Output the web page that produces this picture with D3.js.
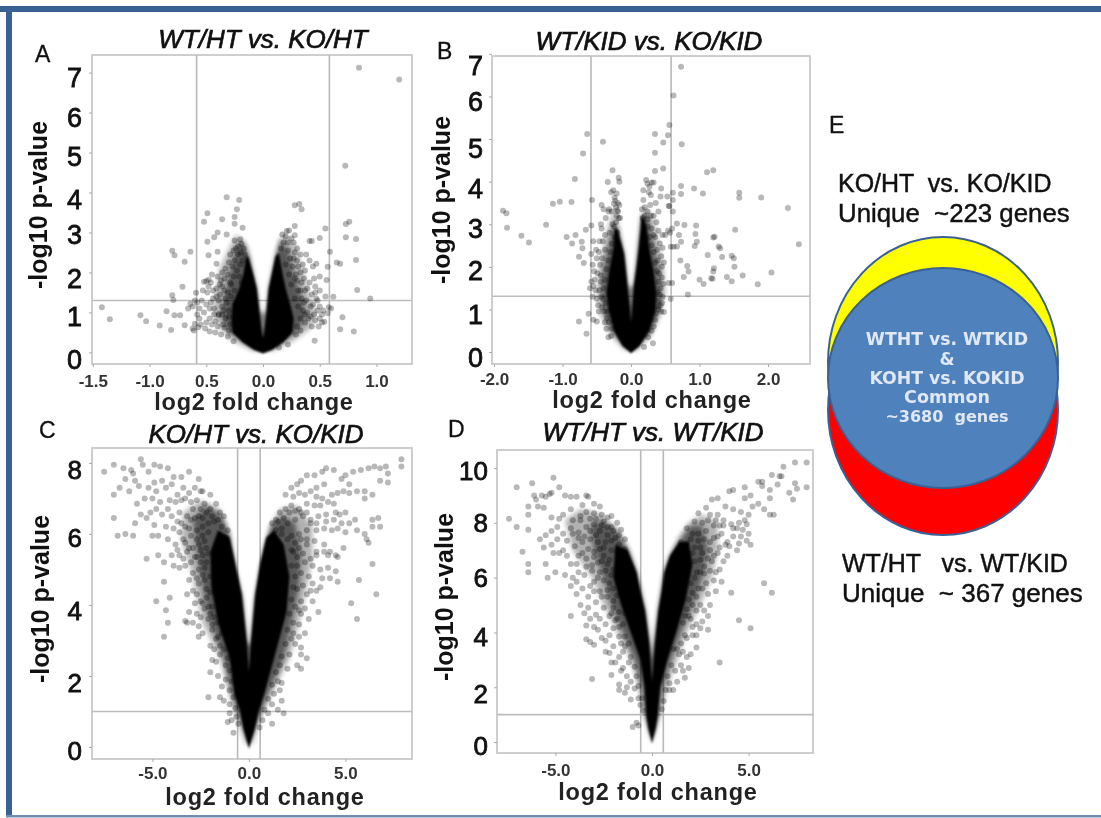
<!DOCTYPE html>
<html>
<head>
<meta charset="utf-8">
<script src="https://cdn.jsdelivr.net/npm/d3@7"></script>
<style>
  html, body { margin: 0; padding: 0; background: #fff; }
  svg { display: block; filter: blur(0.5px); font-family: "Liberation Sans", Arial, sans-serif; }
</style>
</head>
<body>
<div id="chart"></div>
<script>
// genes: [log2 fold change, -log10 p-value]
const ptsA = [
  [.846,7.12],[1.2,6.83],[.725,4.67],[.76,3.27],[.73,3.21],[.73,2.88],[.82,2.84],[.82,2.31],[.83,1.56],[.945,1.35],
  [.65,2.25],[.68,2.22],[.55,3.1],[.5,2.86],[.59,2.52],[.57,2.14],[.56,1.81],[.47,2.22],[.43,2.79],[.41,2.79],
  [.62,1.39],[.6,1.1],[.58,1.13],[.7,.88],[.68,.58],[.8,.52],[.455,.29],[.54,.77],[.32,3.71],[.28,3.68],[.34,3.58],
  [.28,3.16],[.28,2.93],[.21,3.04],[.23,3.05],[-.32,3.88],[-.21,3.81],[-.23,3.58],[-.49,3.48],[-.52,3.27],[-.36,3.33],
  [-.25,3.39],[-.25,3.22],[-.18,3.12],[-.4,3],[-.43,2.88],[-.49,2.77],[-.32,2.95],[-.25,2.8],[-.2,2.83],[-.8,2.54],
  [-.78,2.43],[-.64,2.52],[-.69,2.27],[-.48,2.43],[-.4,2.52],[-.41,2.22],[-.71,1.64],[-.59,1.49],[-.8,1.43],[-.79,1.31],
  [-1.42,1.13],[-1.35,.83],[-1.08,.93],[-1.03,.78],[-.91,.67],[-.85,1.03],[-.78,.93],[-.73,.93],[-.81,.56],[-.69,.68],
  [-.62,.6],[-.61,.55],[-.6,.72],[-.57,.63],[-.55,.7],[-.51,.6],[-.47,.52],[-.42,.5],[-.37,.45],[-.31,.4],[-.26,.28],
  [-.62,1.15],[-.58,1.25],[-.56,1.1],[-.54,1.3],[-.52,1],[-.5,1.2],[-.49,1.5],[-.47,.85],[-.46,1.75],[-.44,1.35],
  [-.43,1.1],[-.42,.78],[-.41,1.6],[-.4,1.9],[-.39,1.3],[-.39,.93],[-.39,.96],[-.37,1.8],[-.36,2],[-.36,1.15],
  [-.35,.7],[-.34,1.55],[-.33,2.1],[-.32,1.25],[-.31,1.95],[-.3,2.25],[-.3,.9],[-.29,2.45],[-.28,1.7],[-.27,2.15],
  [-.26,2.55],[-.25,2.3],[-.22,2.65],[-.2,2.5],[-.19,2.72],[-.17,2.6],[-.5,1.78],[-.48,1.82],[-.45,1.95],[-.52,1.77],
  [.27,2.75],[.3,2.6],[.33,2.45],[.35,2.2],[.33,2],[.3,2.3],[.28,2.5],[.37,2.05],[.36,1.85],[.39,1.6],[.41,1.75],
  [.43,1.45],[.45,1.85],[.46,1.65],[.46,1.5],[.44,1.2],[.47,1.35],[.48,1.05],[.5,1.9],[.53,1.05],[.45,.95],[.42,.9],
  [.39,1],[.36,1.25],[.33,1.55],[.3,1.8],[.37,.75],[.33,.55],[.29,.45],[.22,.2],[.14,.12],[.5,.85],[.52,.95],[.57,.98],
  [.41,2.3],[.38,2.45],[.44,2.15],[.25,2.85],[.2,2.9],[.17,2.95],
  [-.24,2.6],[-.22,2.45],[-.2,2.2],[-.23,2.05],[-.26,1.9],[-.29,1.75],[-.31,1.5],[-.33,1.35],[-.35,1.05],[-.28,1.4],[-.25,1.55],
  [-.24,1.2],[-.3,1.05],[-.33,.85],[-.29,.7],[-.36,.95],[-.38,1.45],[-.41,1.4],[-.43,.95],[-.47,1.1],[-.4,.65],[-.34,.62],[-.3,.55],
  [-.18,2.3],[-.16,2.45],[-.21,1.9],[-.19,1.75],[-.38,1.7],[-.34,1.85],
  [.18,2.75],[.16,2.6],[.22,2.55],[.24,2.35],[.2,2.2],[.26,2.15],[.23,1.95],[.28,1.85],[.25,1.7],[.31,1.55],[.28,1.35],[.34,1.35],
  [.31,1.15],[.35,1.05],[.38,1.3],[.33,.85],[.37,.95],[.4,.85],[.3,.65],[.42,1.15],[.27,2.35],[.31,2.15],[.29,1.95],[.34,1.75],[.37,1.55],[.22,2.75],
  [-.58,.95],[-.6,1.3],[-.53,1.55],[-.56,.85],[-.64,1.22],[-.66,1.1],[-.5,.75],[-.45,.7],[-.44,1.55],[-.46,1.25],[-.48,1.65],[-.36,1.65],
  [.48,1.3],[.5,1.15],[.55,1.4],[.52,.75],[.46,.8],[.49,.65],[.43,.65],[.5,1.55]
];
const ptsB = [
  [.73,6.7],[.62,6.02],[.56,5.33],[.54,5.09],[.35,5.12],[.47,4.92],[.74,4.88],[.35,4.68],[.47,4.31],[.35,4.25],[1.11,4.22],[1.2,4.27],
  [-.64,5.12],[-.41,4.94],[-.7,4.66],[-.82,4.06],[-.27,4.27],[-.18,4.09],[-.34,3.99],[-.17,4],[-1.87,3.32],[-1.82,3.26],[-1.81,2.92],
  [-1.6,2.73],[-1.49,2.57],[-1.24,2.99],[-1.14,3.48],[-1.04,3.53],[-.87,3.52],[-.94,2.7],[-.81,2.75],[-.86,2.55],[-.72,2.59],[-.71,2.44],
  [-.76,2.24],[-.69,2.09],[-.66,2.87],[-.58,2.97],[-.57,3.57],[-.76,.72],[-.65,.43],[-.62,.9],[-.55,.76],[-.5,.72],[-.29,.38],[.19,.12],
  [.32,.21],[.48,.94],[.4,1.07],[.58,1.25],[.83,1.35],[.73,3.9],[.73,3.71],[.92,3.84],[1.05,3.72],[1.58,3.74],[1.58,3.62],[1.9,3.63],
  [2.29,3.38],[2.45,2.53],[1.52,2.87],[1.22,2.71],[1.2,2.69],[.78,2.98],[.95,2.97],[.94,2.77],[.96,2.59],[.93,2.49],[1.28,2.48],[1.3,2.44],
  [1.33,2.23],[1.12,2.28],[1.47,2.26],[1.5,2.2],[1.51,2],[1.63,1.8],[2.05,1.87],[1.85,1.59],[1.4,1.76],[1.47,1.66],[1.21,1.97],[1.2,1.89],
  [1.17,1.73],[1.19,1.72],[1,1.7],[1.06,1.6],[.77,1.76],[.82,2.02],[.84,1.89],[.72,2.15],[.73,2.59],[.67,2.48],[.7,2.75],[.67,3.02],[.61,3.3],
  [.55,3.43],[.61,3.57],[.53,3.65],[.61,3.74],[.44,3.84],[.43,3.65],[.33,3.98],[.22,4.04],[.27,3.88],[.18,3.8],[.29,3.69],[.18,3.57],[.24,3.95],
  [.3,3.98],[.26,3.75],[.56,3.43],[.6,2.9],[.57,2.8],[.58,2.47],[.62,2.47],[.46,2.75],[.5,2.75],[.54,2.85],[.48,2.1],[.45,1.75],[.55,1.62],[.6,1.62],
  [.33,3.2],[.37,3.05],[.4,2.85],[.35,2.7],[.42,2.55],[.38,2.4],[.44,2.25],[.39,2.15],[.45,2],[.41,1.85],[.43,1.5],[.46,1.3],[.4,1.2],[.43,1.1],
  [.2,3.4],[.24,3.3],[.29,3.2],[.16,3.35],[.28,3.45],[-.29,3.75],[-.26,3.8],[-.21,3.72],[-.24,3.62],[-.19,3.5],[-.17,3.45],[-.22,3.4],[-.28,3.3],
  [-.21,3.2],[-.18,3.15],[-.16,3.15],[-.2,3.33],[-.32,3.35],[-.43,3.45],[-.4,3.35],[-.37,3.15],[-.33,3.3],[-.44,3],[-.46,2.6],[-.38,2.75],[-.31,2.8],
  [-.55,2.6],[-.58,2.3],[-.56,2.05],[-.54,1.9],[-.51,2.4],[-.5,2.2],[-.49,1.85],[-.58,1.65],[-.6,1.5],[-.53,1.7],[-.52,1.45],[-.45,2.05],[-.44,1.65],
  [-.5,1.25],[-.48,1.1],[-.43,1.3],[-.42,1.05],[-.39,.95],[-.35,.8],[-.36,.55],[-.38,.7],[-.33,.35],[.3,.5],[.35,.75],[.25,.35],
  [-.2,2.8],[-.24,2.7],[-.28,2.55],[-.3,2.35],[-.33,2.15],[-.36,1.95],[-.38,1.7],[-.4,1.5],[-.41,1.25],[-.37,1.15],[-.38,2.4],[-.42,2.2],[-.44,1.8],
  [-.35,.95],[-.32,.7],[-.28,.55],[-.25,2.95],[-.22,3.05],[-.27,3],[-.23,3.55],[-.25,3.48],[-.19,3.3],
  [.2,3.2],[.24,2.95],[.27,2.7],[.3,2.5],[.33,2.35],[.35,2.1],[.38,1.9],[.4,1.65],[.39,1.4],[.4,1],[.36,.9],[.33,.6],[.28,.75],[.24,3.12],[.17,3.15],[.3,2.9],[.33,2.75],
  [.45,1.15],[.47,1.6],[.42,1.35],[.44,.95],[-.46,1.45],[-.47,.95],[-.56,1.3],[-.55,1.55],[-.47,2.35],[-.41,2.6],[-.43,2.9],[.4,3.3],[.36,3.5],[.46,2.45]
];
const ptsC = [
  [-7.5,7.75],[-7,7.95],[-6.5,7.85],[-6.1,7.8],[-5.6,8.1],[-5.5,7.95],[-5.2,7.75],[-4.9,7.95],[-4.6,7.9],[-4.2,7.85],[-3.9,7.6],[-3.5,7.6],[-3.1,7.75],
  [-2.6,7.55],[-2.4,7.2],[-2,7.1],[-6,7.7],[-5.9,7.5],[-6.4,7.55],[-6.7,7.3],[-7,7.1],[-7,6.45],[-6.8,5.95],[-6.4,6],[-6,5.95],[-5.9,6.3],[-5.3,6.45],
  [-5.6,6.55],[-5.8,6.85],[-5.4,7],[-5,7],[-4.9,7.45],[-4.5,7.5],[-4.3,7.3],[-4,7.4],[-5.7,7.35],[-5.2,7.3],[-6.2,7.2],[-4.6,6.9],[-4.8,6.7],[-4.1,6.95],
  [-3.7,7.1],[-3.3,7],[-3,6.9],[-2.7,6.95],[-3.6,6.6],[-3.2,6.5],[-2.9,6.7],[-2.6,6.5],[-2.3,6.85],[-2,6.7],[-1.7,6.85],[-1.5,6.6],[-4,6.5],[-4.3,6.2],
  [-3.9,6.15],[-3.5,6.3],[-3.1,6.15],[-4.9,6.25],[-5,5.95],[-4.7,5.95],[-4.2,5.85],[-3.8,5.7],[-3.4,5.85],[-3,5.95],[-2.7,6.1],[-2.4,6.2],[-2.1,6.3],[-1.8,6.35],
  [-3.6,5.4],[-3.2,5.5],[-2.9,5.6],[-2.6,5.7],[-2.3,5.8],[-3.3,5.1],[-3,5.2],[-2.7,5.35],[-2.4,5.4],[-2.9,4.9],[-2.6,5],[-2.3,5.05],[-2.6,4.6],[-2.3,4.7],[-2,4.8],
  [-5.3,5.3],[-4.7,5.4],[-4.4,5.2],[-4.4,4.65],[-4.8,4.1],[-4.1,4.2],[-4.3,3.85],[-4.2,3.5],[-4.4,3.1],[-3.1,3.8],[-3.2,3.5],[-2.6,3.4],[-2.3,3.9],[-2.1,3.6],
  [-2,2.85],[-1.8,2.75],[-1.6,2],[-2.1,1.4],[-1.3,1.3],[-1.1,.7],[-.8,.4],[-2.7,3.75],[-2.9,3.5],[-2.5,4.1],[-2.2,4.2],[-2.7,4.3],[-1.9,3.3],[-1.6,3.1],[-1.5,2.6],
  [-1.9,3.95],[-1.7,4.3],[-1.2,1.9],[-1,1.6],[-1,.95],
  [-1.3,6.5],[-1.6,6.4],[-1.9,6.5],[-2.2,6.6],[-2.5,6.7],[-2.8,6.45],[-1.1,6.1],[-1.4,6.2],[-2.1,6.05],[-2.4,5.95],[-2.7,5.85],[-1.2,5.9],[-2.2,5.6],[-2.5,5.55],
  [-2.8,5.35],[-3.1,5.6],[-2.2,5.2],[-2.5,5.2],[-2.1,5.45],[-2.4,4.85],[-2.7,4.75],[-2.2,4.45],[-2,4.35],[-2.4,4.05],[-2.1,3.95],[-2,3.75],[-1.8,3.65],[-1.6,3.5],
  [-1.9,3.45],[-1.7,3.05],[-1.4,3.2],[-1.5,2.85],[-1.3,2.75],[-1.1,2.5],[-1,2.15],[-1.2,2.3],[-.9,1.85],[-.8,1.4],[-1,1.2],[-.7,1.1],[-.65,.85],[-.55,.65],
  [-3.8,6.9],[-3.5,6.95],[-2.4,6.45],[-3,6.4],[-3.3,6.2],[-3.6,6.05],[-3.3,5.75],[-3.7,5.55],
  [-3.4,5.3],[-3.6,5.05],[-3.1,4.7],[-2.9,4.4],[-3.2,4.3],[-2.8,4.05],[-3.3,3.55],[-2.4,3.2],[-2.5,3.65],[-2.6,3.1],[-1.9,2.45],[-2,2.1],[-1.7,2.4],[-1.4,1.7],
  [-1.5,1.4],[-.9,.75],[-3.9,5.1],[-4,5.4],[-3.7,6.35],[-4.2,6.7],[-4.5,6.55],[-4.8,7.2],[-5.1,6.6],[-3.4,7.3],[-3.1,7.15],[-2.8,7.3],[-2.5,7.2],
  [7.9,8.1],[7.9,7.9],[7.1,7.9],[7.2,7.7],[6.8,7.85],[6.5,7.9],[6.2,7.85],[5.8,7.8],[5.4,7.75],[5,7.65],[4.8,7.55],[4.4,7.8],[4,7.85],[3.8,7.75],[3.4,7.65],
  [3,7.65],[2.7,7.5],[7.2,7.45],[6.8,7.5],[5.2,7.4],[4.6,7.15],[4.9,7.2],[5.2,7.15],[5.6,7.2],[6,7.2],[6.4,7.1],[6,7],[3.9,7.4],[3.5,7.3],[3.2,7.2],[2.9,7.1],[2.6,7.15],
  [2.3,7.05],[4.3,7.1],[4.1,6.9],[3.8,7],[3.4,6.8],[3,6.85],[2.6,6.7],[2.2,6.8],[1.9,6.7],[1.6,6.6],[1.4,6.4],[4.5,6.6],[4,6.55],[4,6.35],[3.6,6.5],[3.2,6.4],[2.8,6.5],
  [2.4,6.4],[2,6.3],[1.7,6.15],[5,6.6],[5.5,6.4],[5.6,6.1],[5,6.05],[4.6,6.15],[4.3,6.1],[3.9,6.15],[3.5,6.1],[3,6.1],[2.6,6],[2.2,5.95],[6.4,6.4],[6.7,6.45],[6.8,6.2],[6.4,6.2],
  [6,6],[6.1,5.85],[6.2,5.75],[3.4,5.8],[3,5.7],[2.6,5.6],[2.3,5.5],[3.9,5.5],[3.5,5.5],[4.1,5.4],[4.5,5.4],[4.9,5.6],[4.6,5.35],[3.2,5.3],[2.9,5.2],[2.5,5.1],[3.7,5],[4.1,5.05],
  [4.5,4.95],[3.8,4.75],[4.2,4.75],[4.6,4.65],[3.3,4.6],[3,4.3],[2.7,4.1],[5.7,4.7],[6.4,5.15],[6.6,4.3],[5.3,4.05],[5.6,3.6],[3.6,3.8],
  [2.7,2.2],[2.5,2.3],[2.7,2.6],[2.7,2.8],[2.6,3.1],[2.6,3.45],[2.7,3.75],[2.3,3.2],[2.1,2.6],[1.7,1.8],[1.8,.95],[1.2,.65],[1.7,1.3],[1.3,1.5],[1.2,1.2],[1,.95],[1.5,1.05],[2.4,2.9],
  [1.2,6.3],[1.5,6.35],[1.8,6.45],[2.1,6.6],[2.4,6.65],[2.7,6.6],[3,6.6],[1.4,6.1],[1.7,6],[2,5.85],[2.4,5.75],[2.7,5.85],[3,5.85],[2.2,5.55],[2.5,5.35],[2.8,5.45],[2.2,5.1],[2.4,4.8],
  [2.7,4.9],[2.3,4.5],[2.5,4.45],[2.8,4.55],[2.2,4.15],[2.4,3.95],[2.6,3.85],[2.1,3.75],[2.3,3.5],[2,3.3],[2.2,3.05],[1.9,2.9],[1.7,2.55],[1.6,2.3],[1.4,2.1],[1.5,1.85],[1.2,1.75],
  [1,1.35],[.8,1.05],[.7,.75],[.55,.55],[2.9,3.9],[3.1,4.8],[3.3,5.1],[3.5,5.4],[3.2,6.3],[3.5,6.3],
  [3,2.5],[2.9,3.2],[3.1,3.6],[3.3,4.1],[3.5,4.4],[3.7,4.5],[3.2,4.4],[3.9,5.7],[4.2,5.5],[4.4,6.4],[4.8,6.3],[5.2,6.3],[3.7,6.8],[4.4,6.85],[4.7,6.55],[2.2,7.3],[2.5,7.4],[3.5,7.05],[1.9,7.1],[1.6,1.6],[2,2.2]
];
const ptsD = [
  [-7,9.3],[-6.2,9.45],[-6.1,9],[-6,8.85],[-5.7,9],[-5.2,9.1],[-5.1,9.65],[-4.8,9.3],[-6.4,8.6],[-5.5,8.95],[-5.3,9.05],[-5.9,8.6],[-6.4,8.3],[-5.6,8.55],[-5.2,8.2],[-4.5,9],[-4.2,8.95],
  [-3.9,8.95],[-3.4,9],[-3.3,8.95],[-3,8.7],[-2.7,8.6],[-3.6,8.65],[-4.2,8.5],[-4.6,8.3],[-4.8,8.15],[-4.1,8.1],[-3.7,8.25],[-3.4,8.4],[-3,8.35],[-2.6,8.3],[-2.3,8.2],[-2.1,8.25],[-2.5,8.05],[-2.1,7.85],
  [-1.8,8],[-1.6,7.75],[-1.4,7.4],[-4.9,7.85],[-5.2,7.7],[-4.6,7.6],[-4.2,7.8],[-3.8,7.65],[-3.4,7.85],[-3,7.95],[-2.7,7.7],[-2.3,7.55],[-1.9,7.45],[-4.4,7.35],[-4,7.15],[-3.6,7.3],[-3.2,7.4],[-2.8,7.3],
  [-2.5,7.1],[-2.1,7],[-1.8,6.95],[-3.8,6.8],[-3.4,6.7],[-3,6.75],[-2.6,6.6],[-2.3,6.5],[-2,6.3],[-4.2,6.5],[-3.8,6.2],[-3.5,6.1],[-3.1,6.25],[-2.8,6],[-2.5,5.9],[-2.2,5.8],[-4.2,5.7],[-3.9,5.85],[-3.6,5.6],
  [-3.3,5.3],[-3,5.5],[-2.7,5.5],[-2.3,5.3],[-2,5.15],[-2.9,5.1],[-2.5,4.9],[-2.1,4.7],[-3.3,4.9],[-2.9,4.65],[-2.4,4.3],[-2,4.15],[-1.8,4.5],[-1.7,4.2],[-1.4,4.7],
  [-7.4,8.15],[-7,7.85],[-6.4,7.75],[-6.7,6.95],[-6.4,6.5],[-6.4,6.2],[-5.5,6.5],[-5.4,6],[-5,6.2],[-5.8,7.4],[-5.6,7.1],[-5.1,6.9],[-5.5,7.55],[-4.2,4.6],[-3.4,4.25],[-3.4,3.75],[-3.2,3.65],[-3,3.55],[-3.1,2.3],
  [-2.2,3.25],[-2.1,2.9],[-2.1,2.45],[-1.7,2.1],[-1.7,1.9],[-1.1,1.55],[-1,.55],[-.8,.7],[-.7,.6],[-1.7,3.1],[-1.5,2.7],[-1.3,2.4],[-1.1,2.2],[-1.4,3.5],[-1.6,3.6],
  [-1.7,7.55],[-2,7.7],[-2.3,7.85],[-2.6,7.9],[-2.9,7.55],[-3.2,7.7],[-3.5,7.5],[-3.8,7.45],[-1.4,7.05],[-1.7,7.2],[-2.1,7.35],[-2.4,7.3],[-2.7,7.05],[-3,6.95],[-3.3,7.05],[-3.6,6.9],[-2.2,6.65],[-2.5,6.8],
  [-2.8,6.55],[-3.1,6.45],[-3.4,6.4],[-2.1,6.1],[-2.4,6.25],[-2.7,6.2],[-3,5.85],[-2,5.6],[-2.3,5.55],[-2.6,5.3],[-1.8,5.35],[-2,4.9],[-2.2,4.6],[-1.7,4.75],[-1.9,4.45],[-1.5,4.3],[-1.7,3.85],[-1.4,3.85],
  [-1.2,3.6],[-1.5,3.3],[-1.1,3.1],[-.9,2.75],[-1.2,2.9],[-.8,2.4],[-.7,2.05],[-.9,1.95],[-.5,1.6],[-.6,1.35],[-.45,1.15],[-.7,1.6],[-3.7,8.1],[-3.2,8.15],[-2.9,8.15],[-4.1,7.6],
  [-3.7,5],[-3.5,4.7],[-3.2,4.5],[-3,4.2],[-2.7,4.5],[-2.8,4.1],[-2.6,3.8],[-2.4,3.7],[-2.2,3.9],[-2.4,3.3],[-2,3.5],[-1.9,2.9],[-1.6,2.6],[-1.3,2],[-1.4,1.8],[-3.9,5.4],[-4.1,6],[-4.5,6.1],[-4.4,6.8],
  [-4.8,6.9],[-5.2,7.2],[-4.9,7.4],[-4.6,7],[-3.9,6.5],[-3.2,5.7],
  [8,10.2],[7.4,10.2],[6.8,10.05],[8,9.3],[7.3,8.85],[7.1,9.1],[7.5,9.25],[7.4,9.45],[6.6,9.7],[6.2,9.75],[6.7,9.7],[6.5,9.4],[6.1,9.2],[5.7,9.5],[5.5,9.5],[5.7,9.35],[4.8,9.3],[4.2,9.2],[4,9.15],[3.4,8.9],[3.1,8.85],
  [2.8,8.55],[2.4,8.35],[5.1,9],[4.8,8.9],[5.2,8.6],[5.5,8.7],[5.8,8.5],[6.1,8.3],[6.3,8.3],[6.1,8.9],[5,8.3],[4.6,8.4],[4.2,8.5],[3.8,8.6],[3.4,8.3],[3,8.3],[2.6,8],[2.2,8.05],[1.8,7.8],
  [4.8,8.1],[4.5,8],[4.1,7.95],[3.7,7.9],[3.2,7.9],[2.8,7.7],[2.4,7.6],[2,7.4],[4.4,7.8],[4.7,7.75],[5,7.6],[4.9,7.35],[5.1,7.2],[4.5,7.25],[4,7.15],[3.9,7.3],[3.4,7.5],[3,7.3],[2.5,7.1],[2.1,6.9],
  [3.4,6.9],[3.9,6.8],[3.1,6.6],[2.7,6.4],[2.3,6.2],[3,6.25],[3.2,5.9],[2.8,5.8],[2.6,5.6],[2.3,5.3],[2.1,5],[3.6,5.85],[4.1,5.45],[3.3,6.2],[2.9,5.4],[2.5,5],[2.3,4.8],
  [3.5,2.9],[5.1,4.15],[4.5,4.45],[5.8,5.8],[6.2,5.45],[2.9,4.1],[2.5,4.15],[2.3,4.3],[2.3,3.45],[1.7,2.35],[1.8,3.1],[2.1,3.9],[1.9,4.6],[1.7,3.9],[1.4,3.2],[1.2,2.6],[.9,1.9],[1.1,3.4],[1.5,2.8],
  [1.5,7.3],[1.8,7.25],[2.1,7.6],[2.4,7.35],[2.7,7.4],[3,7],[1.5,7.1],[2.2,7.1],[2.6,6.9],[2.9,6.7],[2.2,6.6],[2.5,6.65],[2.7,6.15],[2.5,6.2],[2.2,6],[2,5.8],[2.4,5.6],[2.1,5.45],[1.9,5.2],[1.8,4.85],
  [1.7,4.6],[2,4.5],[1.6,4.35],[1.8,3.8],[1.5,3.6],[1.3,3.4],[1.6,3.3],[1,2.8],[.8,2.4],[.9,2.15],[.7,1.9],[.6,1.5],[.5,1.2],[3.5,7.9],[3.7,8.1],[3.3,8.1],[2.9,8.1],[3.2,7.45],[3.6,7.6],[3.8,7.2],
  [3.2,6.8],[3.5,7.1],[3.7,6.6],[3.5,6.3],[3.3,5.5],[3,5],[2.7,4.8],[2.9,4.6],[2.6,4.4],[2.1,4.2],[2.3,3.9],[2,3.2],[1.9,2.7],[1.6,2.6],[1.3,2.2],[1.1,1.9],[4.2,7.8],[4.2,7.5],[4.6,7.5],[4.4,7],[4.9,7.95]
];

// solid part of the cloud, where the dots merge into black
const coreA = [[-.13,2.4],[-.09,2],[-.055,1.6],[-.03,1],[-.01,.5],[0,.35],[.01,.5],[.03,1],[.05,1.6],[.08,2],[.11,2.4],[.14,2.5],[.17,2],[.2,1.6],[.24,1.2],[.27,.85],[.26,.5],[.18,.25],[.08,.06],[0,-.03],[-.08,.06],[-.18,.25],[-.27,.5],[-.28,.85],[-.27,1.2],[-.21,1.6],[-.17,2],[-.15,2.4]];
const coreB = [[-.2,2.9],[-.1,2.3],[-.05,1.54],[-.02,1.07],[0,.7],[.02,1.07],[.04,1.54],[.08,2],[.11,2.4],[.14,2.9],[.15,3.2],[.2,3.1],[.23,2.9],[.27,2.4],[.33,1.9],[.37,1.4],[.36,1],[.27,.5],[.13,.15],[0,-.03],[-.13,.15],[-.25,.5],[-.33,1],[-.36,1.4],[-.32,1.9],[-.26,2.4],[-.24,2.9]];
const coreC = [[-1.6,6.1],[-1,5.9],[-.72,5.2],[-.37,4.3],[-.1,2.9],[0,2.1],[.1,2.9],[.33,4.3],[.6,5.2],[.9,5.9],[1.3,6.1],[1.8,5.7],[2.1,4.8],[1.95,3.8],[1.3,2.5],[.8,1.5],[.5,1],[.3,.5],[0,-.05],[-.28,.5],[-.45,1],[-.75,1.5],[-1,2.5],[-1.6,3.5],[-1.95,4.5],[-2,5.5]];
const coreD = [[-1.9,7.2],[-1.25,7],[-.8,6.2],[-.6,5.5],[-.36,4.8],[-.14,3.6],[0,2.2],[.15,3.6],[.33,4.8],[.5,5.5],[.64,6.2],[.93,6.8],[1.4,7.3],[1.9,7.3],[2.1,6.5],[1.75,5.2],[1.25,4],[.8,3],[.42,2],[.3,1],[.19,.5],[0,-.05],[-.19,.5],[-.3,1],[-.38,2],[-.6,3],[-1.1,4],[-1.6,5],[-2,6]];

// darker band just outside the solid part
const midA = [[-.12,2.4],[-.19,2.8],[-.25,2.5],[-.3,1.9],[-.34,1.4],[-.36,.9],[-.3,.5],[0,.1],[.3,.5],[.38,.9],[.34,1.4],[.28,1.9],[.23,2.5],[.15,2.85],[.11,2.4],[.08,2],[.05,1.6],[.03,1],[-.03,1],[-.055,1.6],[-.09,2]];
const midB = [[-.2,2.9],[-.25,3],[-.33,2.5],[-.41,1.9],[-.43,1.4],[-.39,.9],[-.27,.45],[0,.1],[.27,.45],[.39,.9],[.43,1.4],[.41,1.9],[.33,2.5],[.24,3.2],[.15,3.2],[.08,2],[.04,1.54],[-.05,1.54],[-.1,2.3]];
const midC = [[-1,6],[-1.4,6.5],[-2.2,6.8],[-2.9,6.4],[-2.7,5.5],[-2.4,4.5],[-2.1,3.7],[-1.3,2.5],[-.9,1.5],[-.5,.8],[0,.2],[.5,.8],[1,1.5],[1.8,2.5],[2.3,3.7],[2.6,4.5],[2.7,5.4],[2.4,6.3],[1.8,6.5],[1.2,6.3],[.85,5.7],[.59,5],[.33,4.2],[.1,2.9],[-.1,2.9],[-.36,4.2],[-.71,5]];
const midD = [[-.8,6.2],[-1.2,7],[-1.8,7.7],[-2.6,8.1],[-3.2,7.9],[-3,7],[-2.5,6],[-2.1,5],[-1.5,4],[-.9,3],[-.55,2],[-.35,1],[0,.2],[.35,1],[.55,2],[1,3],[1.5,4],[2.1,5],[2.6,6],[2.9,7],[2.6,7.9],[2,7.9],[1.4,7.3],[.93,6.8],[.64,6.2],[.33,4.8],[0,3],[-.36,4.8]];

// looser part around it
const haloA = [[-.14,2.7],[-.24,2.95],[-.3,2.6],[-.38,2.1],[-.42,1.5],[-.44,1],[-.38,.6],[-.27,.3],[-.1,.05],[.1,.05],[.27,.3],[.42,.6],[.47,1],[.4,1.5],[.35,2.1],[.28,2.7],[.18,3],[.13,2.6],[.1,2],[.07,1.6],[.04,1],[.02,.55],[-.02,.55],[-.04,1],[-.07,1.6],[-.1,2]];
const haloB = [[-.17,2.9],[-.24,3.4],[-.36,2.8],[-.46,2],[-.5,1.4],[-.45,.9],[-.3,.4],[-.1,.05],[.1,.05],[.3,.4],[.44,.9],[.5,1.4],[.47,2],[.4,2.6],[.32,3.2],[.18,3.4],[.15,3],[.09,2.2],[.05,1.54],[.02,1.07],[-.02,1.07],[-.06,1.54],[-.12,2.3]];
const haloC = [[-1,6],[-1.5,6.7],[-2.5,6.95],[-3.4,6.6],[-3.5,5.8],[-3,5],[-2.7,4.2],[-2.4,3.5],[-1.5,2.5],[-1,1.5],[-.6,.8],[-.2,.1],[.2,.1],[.6,.8],[1.2,1.5],[2.1,2.5],[2.6,3.5],[3,4.5],[3.3,5.4],[3.3,6.2],[2.5,6.8],[1.6,6.7],[1.1,6.2],[.85,5.7],[.59,5],[.33,4.2],[.1,2.9],[-.1,2.9],[-.36,4.2],[-.71,5],[-.9,5.6]];
const haloD = [[-.8,6.2],[-1.2,7],[-1.8,7.8],[-2.7,8.35],[-3.7,8.5],[-4.5,8.1],[-4.1,7],[-3.1,6],[-2.5,5],[-1.8,4],[-1.1,3],[-.7,2],[-.4,1],[-.2,.4],[0,0],[.2,.4],[.4,1],[.8,2],[1.3,3],[1.8,4],[2.5,5],[3.1,6],[3.4,7],[3.4,8],[2.6,8.3],[1.9,8],[1.3,7.4],[.93,6.8],[.64,6.2],[.33,4.8],[0,3],[-.36,4.8]];

const panelLetters = ["A", "B", "C", "D"];
const panelTitles = ["WT/HT vs. KO/HT", "WT/KID vs. KO/KID", "KO/HT vs. KO/KID", "WT/HT vs. WT/KID"];
const xTicksA = [-1.5, -1, -.5, 0, .5, 1];
const xLabelsA = ["-1.5", "-1.0", "0.5", "0.0", "0.5", "1.0"];
const xTicksB = [-2, -1, 0, 1, 2];
const xLabelsB = ["-2.0", "-1.0", "0.0", "1.0", "2.0"];
const xTicksCD = [-5, 0, 5];
const xLabelsCD = ["-5.0", "0.0", "5.0"];
const yTicksA = [0, 1, 2, 3, 4, 5, 6, 7];
const yTicksC = [0, 2, 4, 6, 8];
const yTicksD = [0, 2, 4, 6, 8, 10];

const vennLines = ["WTHT vs. WTKID", "&", "KOHT vs. KOKID", "Common", "~3680  genes"];

var panels = [
  { pts: ptsA, core: coreA, mid: midA, halo: haloA, xTicks: xTicksA, xLabels: xLabelsA, yTicks: yTicksA,
    box: [92, 412, 55, 364], xDom: [-1.507, 1.313], yDom: [-.29, 7.44], vl: [-.585, .585], hl: 1.3,
    yShift: [7, 4, 6, 2, 7, 4, 4, 4], yFont: 27, yRight: 82, xBase: 387, xFont: 17,
    letter: [35, 62], title: [263, 48], yTitle: [47, 205], xTitle: [254, 410] },
  { pts: ptsB, core: coreB, mid: midB, halo: haloB, xTicks: xTicksB, xLabels: xLabelsB, yTicks: yTicksA,
    box: [492, 810, 56, 364], xDom: [-2.03, 2.613], yDom: [-.28, 6.95], vl: [-.585, .585], hl: 1.31,
    yShift: [5, 5, 3, 4, 6, 9, 5, 11], yFont: 27, yRight: 483, xBase: 385, xFont: 17,
    letter: [437, 59], title: [649, 50], yTitle: [450, 200], xTitle: [652, 408] },
  { pts: ptsC, core: coreC, mid: midC, halo: haloC, xTicks: xTicksCD, xLabels: xLabelsCD, yTicks: yTicksC,
    box: [92, 412, 448, 759], xDom: [-8.13, 8.45], yDom: [-.34, 8.42], vl: [-.585, .585], hl: 1,
    yShift: [3, 6, 5, 3, 6], yFont: 26, yRight: 82, xBase: 779, xFont: 17,
    letter: [39, 438], title: [256, 443], yTitle: [49, 599], xTitle: [265, 805] },
  { pts: ptsD, core: coreD, mid: midD, halo: haloD, xTicks: xTicksCD, xLabels: xLabelsCD, yTicks: yTicksD,
    box: [497, 813, 450, 753], xDom: [-8.02, 8.33], yDom: [-.4, 10.66], vl: [-.585, .585], hl: 1,
    yShift: [3, 6, 4, 0, 0, 2], yFont: 26, yRight: 488, xBase: 776, xFont: 17,
    letter: [448, 437], title: [653, 441], yTitle: [453, 597], xTitle: [658, 800] }
];

var svg = d3.select("#chart").append("svg")
  .attr("width", 1101)
  .attr("height", 818);

var defs = svg.append("defs");
defs.append("filter").attr("id", "soft").attr("x", "-20%").attr("y", "-20%").attr("width", "140%").attr("height", "140%")
  .append("feGaussianBlur").attr("stdDeviation", 2.6);
defs.append("filter").attr("id", "edge").attr("x", "-20%").attr("y", "-20%").attr("width", "140%").attr("height", "140%")
  .append("feGaussianBlur").attr("stdDeviation", 1.3);

svg.append("rect").attr("width", 1101).attr("height", 818).attr("fill", "#fff");

// blue frame: top and left are heavy, bottom is a thin line, no right side
svg.append("rect").attr("x", 0).attr("y", 6).attr("width", 1101).attr("height", 6).attr("fill", "#3a6194");
svg.append("rect").attr("x", 6).attr("y", 6).attr("width", 6).attr("height", 810).attr("fill", "#3a6194");
svg.append("rect").attr("x", 6).attr("y", 815).attr("width", 1095).attr("height", 2.5).attr("fill", "#6f8db3");

panels.forEach(function (p, i) {
  var x = d3.scaleLinear().domain(p.xDom).range([p.box[0], p.box[1]]);
  var y = d3.scaleLinear().domain(p.yDom).range([p.box[3], p.box[2]]);
  var g = svg.append("g");
  var outline = d3.line().x(d => x(d[0])).y(d => y(d[1])).curve(d3.curveLinearClosed);

  // frame and guide lines sit under the dots
  g.append("rect")
    .attr("x", p.box[0]).attr("y", p.box[2])
    .attr("width", p.box[1] - p.box[0]).attr("height", p.box[3] - p.box[2])
    .attr("fill", "none").attr("stroke", "#c9c9c9").attr("stroke-width", 1.8);
  p.vl.forEach(function (v) {
    g.append("line")
      .attr("x1", x(v)).attr("x2", x(v))
      .attr("y1", p.box[2]).attr("y2", p.box[3])
      .attr("stroke", "#b9b9b9").attr("stroke-width", 1.6);
  });
  g.append("line")
    .attr("x1", p.box[0]).attr("x2", p.box[1])
    .attr("y1", y(p.hl)).attr("y2", y(p.hl))
    .attr("stroke", "#bdbdbd").attr("stroke-width", 1.6);

  g.append("path").attr("d", outline(p.halo))
    .attr("fill", "#000").attr("opacity", 0.3).attr("filter", "url(#soft)");
  g.append("path").attr("d", outline(p.mid))
    .attr("fill", "#000").attr("opacity", 0.5).attr("filter", "url(#soft)");
  g.selectAll("circle.pt")
    .data(p.pts)
    .enter().append("circle")
    .attr("class", "pt")
    .attr("cx", d => x(d[0]))
    .attr("cy", d => y(d[1]))
    .attr("r", 3)
    .attr("fill", "#000")
    .attr("fill-opacity", 0.28);
  g.append("path").attr("d", outline(p.core))
    .attr("fill", "#000").attr("filter", "url(#edge)");

  // axes
  var xAxis = g.append("g")
    .attr("transform", "translate(0," + p.box[3] + ")")
    .call(d3.axisBottom(x).tickValues(p.xTicks).tickFormat((d, k) => p.xLabels[k]).tickSize(3));
  xAxis.select(".domain").remove();
  xAxis.selectAll("line").attr("stroke", "#aaa");
  xAxis.selectAll("text")
    .attr("y", p.xBase - p.box[3]).attr("dy", 0)
    .attr("font-size", p.xFont).attr("font-weight", "bold").attr("fill", "#333")
    .attr("font-family", "Liberation Sans");

  var yAxis = g.append("g")
    .attr("transform", "translate(" + p.box[0] + ",0)")
    .call(d3.axisLeft(y).tickValues(p.yTicks).tickSize(3));
  yAxis.select(".domain").remove();
  yAxis.selectAll("line").attr("stroke", "#aaa");
  yAxis.selectAll("text")
    .attr("x", p.yRight - p.box[0])
    .attr("dy", (d, k) => (p.yShift[k] + p.yFont * 0.35) + "px")
    .attr("font-size", p.yFont).attr("fill", "#111")
    .attr("stroke", "#111").attr("stroke-width", 0.8)
    .attr("font-family", "Liberation Sans");

  // labels
  g.append("text")
    .attr("x", p.letter[0]).attr("y", p.letter[1])
    .attr("font-size", 23).attr("fill", "#111")
    .attr("stroke", "#111").attr("stroke-width", 0.3)
    .text(panelLetters[i]);
  g.append("text")
    .attr("x", p.title[0]).attr("y", p.title[1])
    .attr("text-anchor", "middle")
    .attr("font-size", 26).attr("font-style", "italic").attr("fill", "#111")
    .attr("stroke", "#111").attr("stroke-width", 0.7)
    .text(panelTitles[i]);
  g.append("text")
    .attr("transform", "translate(" + p.yTitle[0] + "," + p.yTitle[1] + ") rotate(-90)")
    .attr("text-anchor", "middle")
    .attr("font-size", 25).attr("font-weight", "bold").attr("fill", "#111")
    .text("-log10 p-value");
  g.append("text")
    .attr("x", p.xTitle[0]).attr("y", p.xTitle[1])
    .attr("text-anchor", "middle")
    .attr("font-size", 23.5).attr("font-weight", "bold").attr("fill", "#222")
    .attr("letter-spacing", 0.8)
    .text("log2 fold change");
});

// panel E, overlap diagram
var venn = svg.append("g").attr("stroke", "#3a6194").attr("stroke-width", 2);
venn.append("ellipse").attr("cx", 943).attr("cy", 410).attr("rx", 115).attr("ry", 125).attr("fill", "#ff0000");
venn.append("ellipse").attr("cx", 943).attr("cy", 362).attr("rx", 115).attr("ry", 125).attr("fill", "#ffff00");
venn.append("ellipse").attr("cx", 943).attr("cy", 378).attr("rx", 115).attr("ry", 110).attr("fill", "#4f81bd");

var vennBase = [345, 365, 384, 403, 422];
var vennSize = [17.3, 17.3, 17.3, 17.5, 16];
svg.selectAll("text.venn")
  .data(vennLines)
  .enter().append("text")
  .attr("class", "venn")
  .attr("x", 947)
  .attr("y", (d, k) => vennBase[k])
  .attr("text-anchor", "middle")
  .attr("font-family", "DejaVu Sans")
  .attr("font-size", (d, k) => vennSize[k])
  .attr("font-weight", "bold")
  .attr("fill", "#dfe8f4")
  .style("white-space", "pre")
  .text(d => d);

var sideText = [
  ["E", 829, 133, 23],
  ["KO/HT  vs. KO/KID", 838, 192, 25],
  ["Unique  ~223 genes", 838, 222, 25.8],
  ["WT/HT   vs. WT/KID", 842, 572, 25],
  ["Unique  ~ 367 genes", 842, 602, 26]
];
svg.selectAll("text.side")
  .data(sideText)
  .enter().append("text")
  .attr("class", "side")
  .attr("x", d => d[1])
  .attr("y", d => d[2])
  .attr("font-size", d => d[3])
  .attr("fill", "#111")
  .attr("stroke", "#111")
  .attr("stroke-width", (d, k) => k == 0 ? 0.3 : 0.45)
  .style("white-space", "pre")
  .text(d => d[0]);
</script>
</body>
</html>
